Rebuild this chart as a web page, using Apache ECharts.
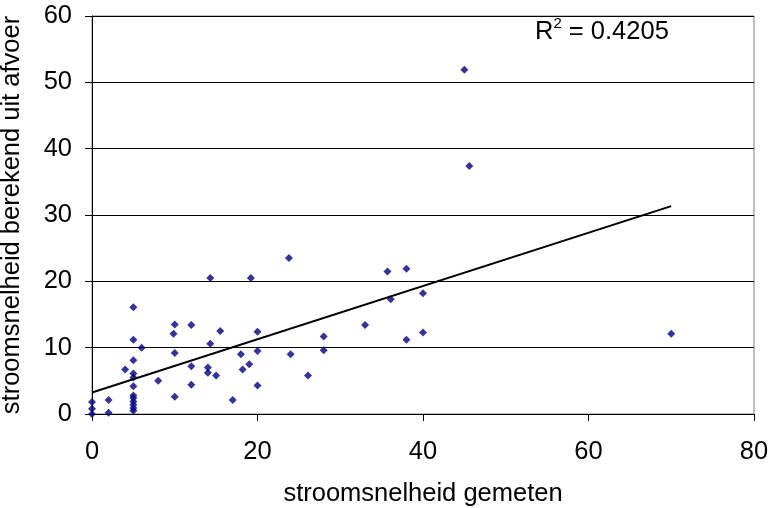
<!DOCTYPE html>
<html>
<head>
<meta charset="utf-8">
<script src="https://cdn.jsdelivr.net/npm/echarts@6/dist/echarts.min.js"></script>
<style>html,body{margin:0;padding:0;background:#fff}#c{width:770px;height:508px}</style>
</head>
<body>
<div id="c"></div>
<script>
const xMeasured = [0,0,0,2,2,5,5,6,5,4,5,5,5,5,5,5,5,5,5,8,10,9.85,10,10,12,12,12,14.3,14,14,15,15.5,14.3,19.2,23.8,20,18,20,24,28,28,18.2,19,20,17,26.1,33,35.7,38,36.1,40,38,40,45,45.6,70];
const yComputed = [1.8,0.8,0,2.1,0.2,16.1,11.2,10.0,8.1,6.7,6.1,5.5,4.2,2.8,2.4,1.9,1.4,0.9,0.5,5.0,13.5,12.1,9.2,2.6,13.4,7.2,4.4,10.6,7.0,6.2,5.8,12.5,20.5,20.5,23.5,12.4,9.0,9.5,9.0,11.7,9.6,6.7,7.5,4.3,2.1,5.8,13.4,21.5,21.9,17.3,18.2,11.2,12.3,51.9,37.4,12.1];
const xTicks = [0,20,40,60,80];
const yTicks = [0,10,20,30,40,50,60];
const r2Label = '0.4205';

const pts = xMeasured.map((x,i)=>[x,yComputed[i]]);
// least-squares trend line
const n = pts.length;
let sx=0,sy=0,sxx=0,sxy=0;
pts.forEach(([x,y])=>{sx+=x;sy+=y;sxx+=x*x;sxy+=x*y;});
const b = (n*sxy - sx*sy)/(n*sxx - sx*sx);
const a = (sy - b*sx)/n;
const xmin = Math.min(...xMeasured), xmax = Math.max(...xMeasured);
const trend = [[xmin, a+b*xmin],[xmax, a+b*xmax]];

const font = 'Arial, "Liberation Sans", sans-serif';
const fs = 25.5;
const chart = echarts.init(document.getElementById('c'), null, {renderer:'canvas'});
chart.setOption({
  animation:false,
  grid:{left:92,right:16,top:16,bottom:94,show:true,borderColor:'#808080',borderWidth:1,containLabel:false,outerBoundsMode:'none'},
  xAxis:{type:'value',min:xTicks[0],max:xTicks[xTicks.length-1],interval:20,
    name:'stroomsnelheid gemeten',nameLocation:'middle',nameGap:67,
    nameTextStyle:{fontFamily:font,fontSize:fs,color:'#000'},
    axisLine:{show:true,onZero:false,lineStyle:{color:'#000',width:1}},
    axisTick:{show:true,inside:false,length:7,lineStyle:{color:'#000'}},
    axisLabel:{fontFamily:font,fontSize:fs,color:'#000',margin:25},
    splitLine:{show:false}},
  yAxis:{type:'value',min:yTicks[0],max:yTicks[yTicks.length-1],interval:10,
    name:'stroomsnelheid berekend uit afvoer',nameLocation:'middle',nameGap:67,
    nameTextStyle:{fontFamily:font,fontSize:fs,color:'#000'},
    axisLine:{show:true,onZero:false,lineStyle:{color:'#000',width:1}},
    axisTick:{show:true,inside:false,length:7,lineStyle:{color:'#000'}},
    axisLabel:{fontFamily:font,fontSize:fs,color:'#000',margin:20},
    splitLine:{show:true,lineStyle:{color:'#000',width:1}}},
  series:[
    {type:'scatter',data:pts,symbol:'diamond',symbolSize:8,itemStyle:{color:'#000080'},z:3},
    {type:'line',data:trend,symbol:'none',lineStyle:{color:'#000',width:2},z:4,silent:true}
  ],
  graphic:[{type:'text',left:535,top:16,style:{
    text:'{r|R}{s|2}{r| = '+r2Label+'}',
    rich:{r:{fontFamily:font,fontSize:fs,fill:'#000',verticalAlign:'bottom'},
          s:{fontFamily:font,fontSize:15,fill:'#000',verticalAlign:'top',padding:[0,0,14,0]}}
  }}]
});
</script>
</body>
</html>
